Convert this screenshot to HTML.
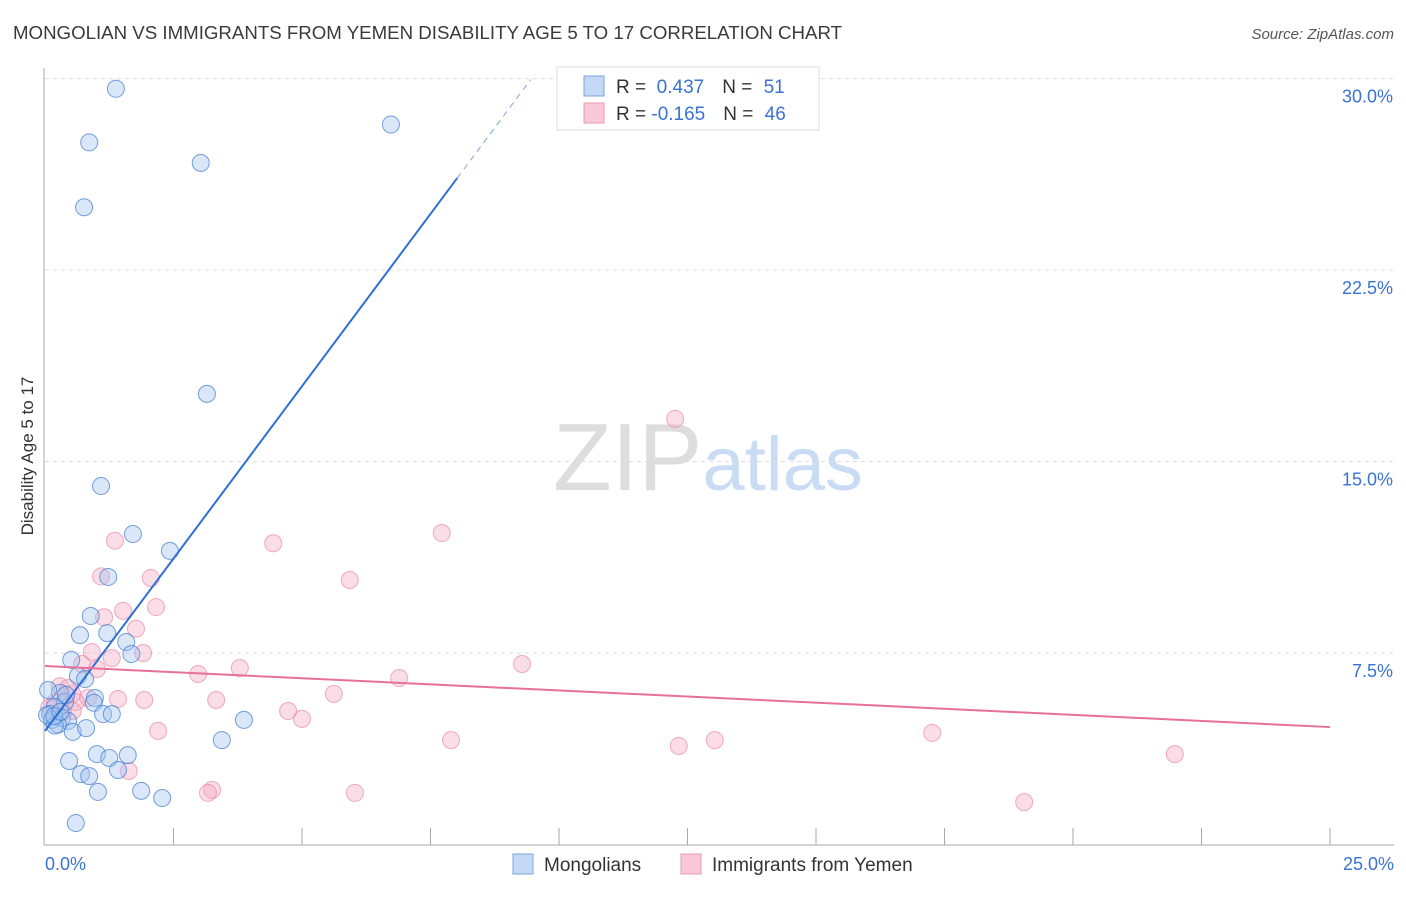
<!DOCTYPE html>
<html><head><meta charset="utf-8"><style>
body{margin:0;background:#fff;font-family:"Liberation Sans",sans-serif;}
svg text{font-family:"Liberation Sans",sans-serif;}
</style></head><body>
<svg id="chart" width="1406" height="892" xmlns="http://www.w3.org/2000/svg">
<text x="13" y="39" font-size="18.6" fill="#3a3a3a" textLength="829" lengthAdjust="spacingAndGlyphs">MONGOLIAN VS IMMIGRANTS FROM YEMEN DISABILITY AGE 5 TO 17 CORRELATION CHART</text>
<text x="1394" y="39" font-size="15" fill="#555" font-style="italic" text-anchor="end">Source: ZipAtlas.com</text>
<text x="553" y="490" font-size="96" fill="#ddd" font-family="Liberation Serif">ZIP<tspan fill="#c9dcf3" font-family="Liberation Sans" font-size="76">atlas</tspan></text>
<g id="grid"></g>
<g id="axes"></g>
<g id="pts"></g>
<g id="trend"></g>
<text transform="translate(33,456) rotate(-90)" font-size="17" fill="#333" text-anchor="middle">Disability Age 5 to 17</text>
<g>
<rect x="557" y="67" width="262" height="63" fill="#fff" stroke="#ddd"/>
<rect x="584" y="76" width="20" height="20" fill="#c4d9f5" stroke="#7aa5e0"/>
<text x="616" y="93" font-size="19" fill="#333">R = <tspan fill="#3a72d6">&#160;0.437</tspan><tspan dx="18">N = </tspan><tspan fill="#3a72d6" dx="6">51</tspan></text>
<rect x="584" y="103" width="20" height="20" fill="#f9c9d8" stroke="#e79ab3"/>
<text x="616" y="120" font-size="19" fill="#333">R = <tspan fill="#3a72d6">-0.165</tspan><tspan dx="18">N = </tspan><tspan fill="#3a72d6" dx="6">46</tspan></text>
</g>
<g><rect x="513" y="854" width="20" height="20" fill="#c4d9f5" stroke="#7aa5e0"/><text x="544" y="871" font-size="19" fill="#333">Mongolians</text></g>
<g><rect x="681" y="854" width="20" height="20" fill="#f9c9d8" stroke="#e79ab3"/><text x="712" y="871" font-size="19" fill="#333">Immigrants from Yemen</text></g>
</svg>
<script>
const blueX=[1.38,.86,3.03,6.73,.76,3.15,1.09,1.71,2.43,1.23,.89,.68,1.21,1.58,1.68,.51,.64,.78,.97,.95,.29,.06,.39,.19,.1,.14,.33,.45,.25,1.13,1.3,.54,.8,.19,3.87,3.44,1.01,1.25,1.61,.47,.7,.86,1.42,1.03,1.87,2.28,.6,.04,.18,.41,.3];
const blueY=[29.6,27.5,26.7,28.2,24.96,17.65,14.04,12.16,11.5,10.48,8.95,8.2,8.28,7.93,7.46,7.23,6.6,6.48,5.74,5.55,5.94,6.05,5.58,5.39,5.11,4.88,4.95,4.84,4.7,5.11,5.11,4.41,4.56,4.66,4.88,4.09,3.54,3.39,3.5,3.27,2.76,2.68,2.92,2.06,2.1,1.82,.84,5.07,5.03,5.86,5.2];
const pinkX=[12.26,7.72,4.44,1.36,1.09,2.06,5.93,1.52,2.16,1.15,1.77,.91,1.91,1.3,.72,1.01,3.79,9.28,2.98,6.89,5.62,.29,.53,.84,1.42,1.93,3.33,.6,.19,4.73,5.0,.54,2.2,7.9,12.33,13.03,17.26,21.98,1.63,3.25,3.17,6.03,19.05,.35,.08,.45];
const pinkY=[16.67,12.2,11.8,11.9,10.5,10.44,10.36,9.15,9.3,8.9,8.45,7.54,7.5,7.3,7.07,6.87,6.91,7.07,6.68,6.52,5.9,6.2,5.9,5.74,5.7,5.66,5.66,5.58,5.55,5.23,4.92,5.23,4.45,4.09,3.86,4.09,4.37,3.54,2.88,2.14,2.02,2.02,1.66,5.19,5.35,6.13];
const yTicks=[7.5,15,22.5,30];
const xTickLabels=["0.0%","25.0%"];
const blueTrend=[4.45,2.70];
const pinkTrend=[6.99,-0.0956];
const NS="http://www.w3.org/2000/svg";
const sx=v=>45+v*51.4, sy=v=>844.5-v*25.53;
function mk(t,a,p){const e=document.createElementNS(NS,t);for(const k in a)e.setAttribute(k,a[k]);document.getElementById(p).appendChild(e);return e;}
yTicks.forEach(t=>{
 const l=mk('line',{x1:45,x2:1394,y1:sy(t),y2:sy(t),stroke:'#ddd','stroke-dasharray':'4,4'},'grid');
 
 
 const tx=mk('text',{x:1393,y:sy(t)+24,'font-size':18,fill:'#3a72d6','text-anchor':'end'},'grid');tx.textContent=t.toFixed(1)+'%';
 
 
});
mk('line',{x1:44,x2:44,y1:68,y2:845,stroke:'#aaa'},'axes');
mk('line',{x1:44,x2:1394,y1:845,y2:845,stroke:'#aaa'},'axes');
for(let i=1;i<=10;i++){const x=sx(i*2.5);mk('line',{x1:x,x2:x,y1:828,y2:845,stroke:'#aaa'},'axes');}
const t0=mk('text',{x:45,y:870,'font-size':18,fill:'#3a72d6'},'axes');t0.textContent=xTickLabels[0];


const t1=mk('text',{x:1394,y:870,'font-size':18,fill:'#3a72d6','text-anchor':'end'},'axes');t1.textContent=xTickLabels[1];


pinkX.forEach((x,i)=>{const c=mk('circle',{cx:sx(x),cy:sy(pinkY[i]),r:8.5,fill:'rgba(246,170,196,0.4)',stroke:'rgba(230,120,155,0.6)'},'pts');
 
 });
blueX.forEach((x,i)=>{const c=mk('circle',{cx:sx(x),cy:sy(blueY[i]),r:8.5,fill:'rgba(160,195,240,0.4)',stroke:'rgba(60,120,210,0.7)'},'pts');
 
 });
const bf=x=>blueTrend[0]+blueTrend[1]*x, pf=x=>pinkTrend[0]+pinkTrend[1]*x;
const b1=mk('line',{x1:sx(0),y1:sy(bf(0)),x2:sx(8.02),y2:sy(bf(8.02)),stroke:'#2f6fd6','stroke-width':2},'trend');


const b2=mk('line',{x1:sx(8.02),y1:sy(bf(8.02)),x2:sx(9.45),y2:sy(bf(9.45)),stroke:'#7aa5e0','stroke-width':1,'stroke-dasharray':'6,5'},'trend');


const p1=mk('line',{x1:sx(0),y1:sy(pf(0)),x2:sx(25),y2:sy(pf(25)),stroke:'#e8709a','stroke-width':2},'trend');


</script>
</body></html>
